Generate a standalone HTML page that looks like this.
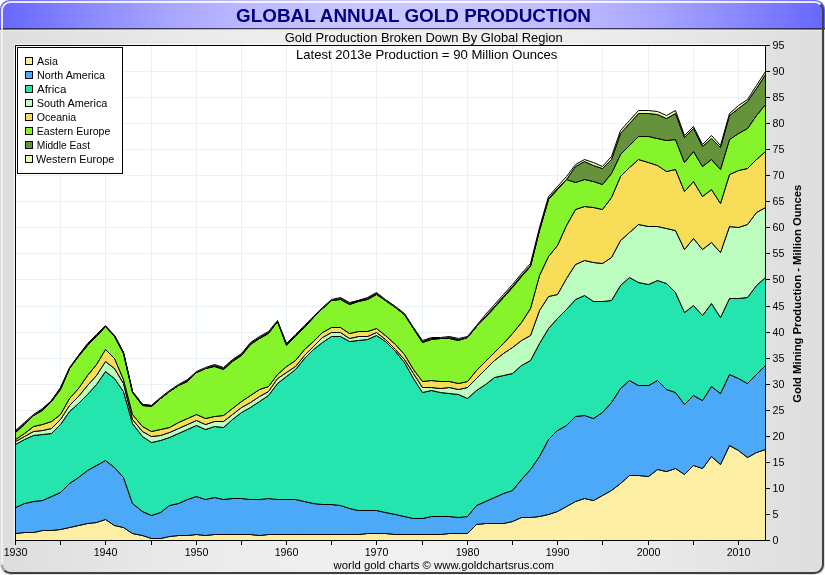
<!DOCTYPE html>
<html><head><meta charset="utf-8"><title>Global Annual Gold Production</title>
<style>
html,body{margin:0;padding:0;background:#fff;}
body{width:825px;height:575px;overflow:hidden;}
svg{display:block;font-family:"Liberation Sans",Arial,sans-serif;}
</style></head><body>
<svg width="825" height="575" viewBox="0 0 825 575">
<defs>
<linearGradient id="gb" x1="0" x2="1" y1="0" y2="0"><stop offset="0" stop-color="#DDDDDD"/><stop offset="0.1" stop-color="#E3E3E3"/><stop offset="0.2" stop-color="#E9E9E9"/><stop offset="0.3" stop-color="#EDEDED"/><stop offset="0.4" stop-color="#EFEFEF"/><stop offset="0.5" stop-color="#F0F0F0"/><stop offset="0.6" stop-color="#EFEFEF"/><stop offset="0.7" stop-color="#EDEDED"/><stop offset="0.8" stop-color="#E9E9E9"/><stop offset="0.9" stop-color="#E3E3E3"/><stop offset="1" stop-color="#DDDDDD"/></linearGradient>
<linearGradient id="gt" x1="0" x2="1" y1="0" y2="0"><stop offset="0" stop-color="#6666FF"/><stop offset="0.1" stop-color="#8887FF"/><stop offset="0.2" stop-color="#A6A4FF"/><stop offset="0.3" stop-color="#BCB9FF"/><stop offset="0.4" stop-color="#C6C3FF"/><stop offset="0.5" stop-color="#CAC7FF"/><stop offset="0.6" stop-color="#C6C3FF"/><stop offset="0.7" stop-color="#BCB9FF"/><stop offset="0.8" stop-color="#A6A4FF"/><stop offset="0.9" stop-color="#8887FF"/><stop offset="1" stop-color="#6666FF"/></linearGradient>
<clipPath id="fc"><rect x="0" y="0" width="825" height="575" rx="9.5" ry="9.5"/></clipPath>
<clipPath id="pc"><rect x="16" y="46" width="749.5" height="494.5"/></clipPath>
</defs>
<rect x="0" y="0" width="825" height="575" fill="#fff"/>
<g clip-path="url(#fc)">
<rect x="0" y="0" width="825" height="575" fill="url(#gb)"/>
<rect x="0" y="0" width="825" height="30" fill="url(#gt)"/>
<rect x="0" y="28" width="825" height="1" fill="#22224E" fill-opacity="0.85"/>
<rect x="0" y="30" width="825" height="1" fill="#ECECE0"/>
</g>
<path d="M2,29 L2,10.5 A8.5,8.5 0 0 1 10.5,2 L814.5,2 A8.5,8.5 0 0 1 820.5,4.5" fill="none" stroke="#fff" stroke-opacity="0.86" stroke-width="2"/>
<path d="M2,566 L2,29" fill="none" stroke="#fff" stroke-opacity="0.55" stroke-width="2"/>
<path d="M14.5,541 L14.5,44.5 L766,44.5" fill="none" stroke="#fff" stroke-opacity="0.7" stroke-width="1"/>
<path d="M820.5,4.5 A8.5,8.5 0 0 1 823,10.5 L823,564.5 A8.5,8.5 0 0 1 814.5,573 L10.5,573 A8.5,8.5 0 0 1 4.5,570.5" fill="none" stroke="#404044" stroke-width="2"/>
<path d="M4.5,570.5 A8.5,8.5 0 0 1 2,564.5" fill="none" stroke="#A0A0A0" stroke-width="2"/>
<rect x="16" y="46" width="749" height="494" fill="#fff"/>
<g stroke="#E6F1FA" stroke-width="1"><line x1="16" x2="765" y1="514.5" y2="514.5"/><line x1="16" x2="765" y1="488.5" y2="488.5"/><line x1="16" x2="765" y1="462.5" y2="462.5"/><line x1="16" x2="765" y1="436.5" y2="436.5"/><line x1="16" x2="765" y1="410.5" y2="410.5"/><line x1="16" x2="765" y1="384.5" y2="384.5"/><line x1="16" x2="765" y1="358.5" y2="358.5"/><line x1="16" x2="765" y1="332.5" y2="332.5"/><line x1="16" x2="765" y1="306.5" y2="306.5"/><line x1="16" x2="765" y1="279.5" y2="279.5"/><line x1="16" x2="765" y1="253.5" y2="253.5"/><line x1="16" x2="765" y1="227.5" y2="227.5"/><line x1="16" x2="765" y1="201.5" y2="201.5"/><line x1="16" x2="765" y1="175.5" y2="175.5"/><line x1="16" x2="765" y1="149.5" y2="149.5"/><line x1="16" x2="765" y1="123.5" y2="123.5"/><line x1="16" x2="765" y1="97.5" y2="97.5"/><line x1="16" x2="765" y1="71.5" y2="71.5"/><line x1="60.5" x2="60.5" y1="46" y2="540"/><line x1="105.5" x2="105.5" y1="46" y2="540"/><line x1="151.5" x2="151.5" y1="46" y2="540"/><line x1="196.5" x2="196.5" y1="46" y2="540"/><line x1="241.5" x2="241.5" y1="46" y2="540"/><line x1="286.5" x2="286.5" y1="46" y2="540"/><line x1="331.5" x2="331.5" y1="46" y2="540"/><line x1="376.5" x2="376.5" y1="46" y2="540"/><line x1="422.5" x2="422.5" y1="46" y2="540"/><line x1="467.5" x2="467.5" y1="46" y2="540"/><line x1="512.5" x2="512.5" y1="46" y2="540"/><line x1="557.5" x2="557.5" y1="46" y2="540"/><line x1="602.5" x2="602.5" y1="46" y2="540"/><line x1="648.5" x2="648.5" y1="46" y2="540"/><line x1="693.5" x2="693.5" y1="46" y2="540"/><line x1="738.5" x2="738.5" y1="46" y2="540"/></g>
<g clip-path="url(#pc)">
<path d="M15.5,533.5 L24.5,532.5 L33.5,532.5 L42.5,530.5 L51.5,530.5 L60.5,529.5 L69.5,527.5 L78.5,525.5 L87.5,523.5 L96.5,522.5 L105.5,519.5 L114.5,525.5 L123.5,527.5 L132.5,533.5 L142.5,535.5 L151.5,538.5 L160.5,538.5 L169.5,536.5 L178.5,535.5 L187.5,535.5 L196.5,534.5 L205.5,535.5 L214.5,534.5 L223.5,534.5 L232.5,534.5 L241.5,534.5 L250.5,534.5 L259.5,535.5 L268.5,534.5 L277.5,534.5 L286.5,534.5 L295.5,534.5 L304.5,534.5 L313.5,534.5 L322.5,534.5 L331.5,534.5 L340.5,534.5 L349.5,534.5 L358.5,534.5 L367.5,533.5 L376.5,533.5 L385.5,533.5 L395.5,534.5 L404.5,534.5 L413.5,534.5 L422.5,534.5 L431.5,534.5 L440.5,534.5 L449.5,533.5 L458.5,533.5 L467.5,533.5 L476.5,524.5 L485.5,523.5 L494.5,523.5 L503.5,523.5 L512.5,521.5 L521.5,517.5 L530.5,517.5 L539.5,516.5 L548.5,514.5 L557.5,511.5 L566.5,506.5 L575.5,501.5 L584.5,498.5 L593.5,500.5 L602.5,495.5 L611.5,490.5 L620.5,483.5 L629.5,475.5 L638.5,475.5 L648.5,476.5 L657.5,469.5 L666.5,471.5 L675.5,468.5 L684.5,474.5 L693.5,465.5 L702.5,468.5 L711.5,456.5 L720.5,464.5 L729.5,445.5 L738.5,450.5 L747.5,457.5 L756.5,452.5 L765.5,449.5 L765.5,540.5 L756.5,540.5 L747.5,540.5 L738.5,540.5 L729.5,540.5 L720.5,540.5 L711.5,540.5 L702.5,540.5 L693.5,540.5 L684.5,540.5 L675.5,540.5 L666.5,540.5 L657.5,540.5 L648.5,540.5 L638.5,540.5 L629.5,540.5 L620.5,540.5 L611.5,540.5 L602.5,540.5 L593.5,540.5 L584.5,540.5 L575.5,540.5 L566.5,540.5 L557.5,540.5 L548.5,540.5 L539.5,540.5 L530.5,540.5 L521.5,540.5 L512.5,540.5 L503.5,540.5 L494.5,540.5 L485.5,540.5 L476.5,540.5 L467.5,540.5 L458.5,540.5 L449.5,540.5 L440.5,540.5 L431.5,540.5 L422.5,540.5 L413.5,540.5 L404.5,540.5 L395.5,540.5 L385.5,540.5 L376.5,540.5 L367.5,540.5 L358.5,540.5 L349.5,540.5 L340.5,540.5 L331.5,540.5 L322.5,540.5 L313.5,540.5 L304.5,540.5 L295.5,540.5 L286.5,540.5 L277.5,540.5 L268.5,540.5 L259.5,540.5 L250.5,540.5 L241.5,540.5 L232.5,540.5 L223.5,540.5 L214.5,540.5 L205.5,540.5 L196.5,540.5 L187.5,540.5 L178.5,540.5 L169.5,540.5 L160.5,540.5 L151.5,540.5 L142.5,540.5 L132.5,540.5 L123.5,540.5 L114.5,540.5 L105.5,540.5 L96.5,540.5 L87.5,540.5 L78.5,540.5 L69.5,540.5 L60.5,540.5 L51.5,540.5 L42.5,540.5 L33.5,540.5 L24.5,540.5 L15.5,540.5Z" fill="#FCEFA4" stroke="#000" stroke-width="1" stroke-linejoin="round"/>
<path d="M15.5,507.5 L24.5,503.5 L33.5,501.5 L42.5,500.5 L51.5,496.5 L60.5,492.5 L69.5,483.5 L78.5,477.5 L87.5,470.5 L96.5,465.5 L105.5,460.5 L114.5,467.5 L123.5,477.5 L132.5,503.5 L142.5,511.5 L151.5,515.5 L160.5,512.5 L169.5,505.5 L178.5,503.5 L187.5,499.5 L196.5,496.5 L205.5,499.5 L214.5,497.5 L223.5,499.5 L232.5,498.5 L241.5,498.5 L250.5,499.5 L259.5,499.5 L268.5,498.5 L277.5,499.5 L286.5,499.5 L295.5,499.5 L304.5,501.5 L313.5,503.5 L322.5,504.5 L331.5,504.5 L340.5,505.5 L349.5,508.5 L358.5,510.5 L367.5,510.5 L376.5,510.5 L385.5,512.5 L395.5,514.5 L404.5,516.5 L413.5,518.5 L422.5,518.5 L431.5,516.5 L440.5,516.5 L449.5,516.5 L458.5,517.5 L467.5,516.5 L476.5,505.5 L485.5,501.5 L494.5,497.5 L503.5,493.5 L512.5,490.5 L521.5,479.5 L530.5,469.5 L539.5,456.5 L548.5,439.5 L557.5,430.5 L566.5,425.5 L575.5,416.5 L584.5,415.5 L593.5,418.5 L602.5,412.5 L611.5,402.5 L620.5,388.5 L629.5,380.5 L638.5,385.5 L648.5,385.5 L657.5,380.5 L666.5,389.5 L675.5,392.5 L684.5,404.5 L693.5,395.5 L702.5,400.5 L711.5,386.5 L720.5,393.5 L729.5,374.5 L738.5,378.5 L747.5,383.5 L756.5,374.5 L765.5,365.5 L765.5,449.5 L756.5,452.5 L747.5,457.5 L738.5,450.5 L729.5,445.5 L720.5,464.5 L711.5,456.5 L702.5,468.5 L693.5,465.5 L684.5,474.5 L675.5,468.5 L666.5,471.5 L657.5,469.5 L648.5,476.5 L638.5,475.5 L629.5,475.5 L620.5,483.5 L611.5,490.5 L602.5,495.5 L593.5,500.5 L584.5,498.5 L575.5,501.5 L566.5,506.5 L557.5,511.5 L548.5,514.5 L539.5,516.5 L530.5,517.5 L521.5,517.5 L512.5,521.5 L503.5,523.5 L494.5,523.5 L485.5,523.5 L476.5,524.5 L467.5,533.5 L458.5,533.5 L449.5,533.5 L440.5,534.5 L431.5,534.5 L422.5,534.5 L413.5,534.5 L404.5,534.5 L395.5,534.5 L385.5,533.5 L376.5,533.5 L367.5,533.5 L358.5,534.5 L349.5,534.5 L340.5,534.5 L331.5,534.5 L322.5,534.5 L313.5,534.5 L304.5,534.5 L295.5,534.5 L286.5,534.5 L277.5,534.5 L268.5,534.5 L259.5,535.5 L250.5,534.5 L241.5,534.5 L232.5,534.5 L223.5,534.5 L214.5,534.5 L205.5,535.5 L196.5,534.5 L187.5,535.5 L178.5,535.5 L169.5,536.5 L160.5,538.5 L151.5,538.5 L142.5,535.5 L132.5,533.5 L123.5,527.5 L114.5,525.5 L105.5,519.5 L96.5,522.5 L87.5,523.5 L78.5,525.5 L69.5,527.5 L60.5,529.5 L51.5,530.5 L42.5,530.5 L33.5,532.5 L24.5,532.5 L15.5,533.5Z" fill="#4CA9F8" stroke="#000" stroke-width="1" stroke-linejoin="round"/>
<path d="M15.5,444.5 L24.5,439.5 L33.5,435.5 L42.5,434.5 L51.5,433.5 L60.5,424.5 L69.5,411.5 L78.5,403.5 L87.5,394.5 L96.5,384.5 L105.5,371.5 L114.5,378.5 L123.5,391.5 L132.5,423.5 L142.5,436.5 L151.5,442.5 L160.5,440.5 L169.5,437.5 L178.5,433.5 L187.5,429.5 L196.5,425.5 L205.5,429.5 L214.5,426.5 L223.5,427.5 L232.5,419.5 L241.5,412.5 L250.5,407.5 L259.5,401.5 L268.5,395.5 L277.5,383.5 L286.5,376.5 L295.5,369.5 L304.5,358.5 L313.5,349.5 L322.5,342.5 L331.5,336.5 L340.5,336.5 L349.5,341.5 L358.5,340.5 L367.5,339.5 L376.5,335.5 L385.5,341.5 L395.5,351.5 L404.5,362.5 L413.5,378.5 L422.5,392.5 L431.5,390.5 L440.5,392.5 L449.5,393.5 L458.5,394.5 L467.5,398.5 L476.5,390.5 L485.5,384.5 L494.5,377.5 L503.5,375.5 L512.5,373.5 L521.5,365.5 L530.5,360.5 L539.5,343.5 L548.5,328.5 L557.5,318.5 L566.5,309.5 L575.5,299.5 L584.5,295.5 L593.5,301.5 L602.5,301.5 L611.5,300.5 L620.5,285.5 L629.5,277.5 L638.5,282.5 L648.5,284.5 L657.5,280.5 L666.5,283.5 L675.5,292.5 L684.5,312.5 L693.5,305.5 L702.5,315.5 L711.5,303.5 L720.5,317.5 L729.5,298.5 L738.5,298.5 L747.5,297.5 L756.5,285.5 L765.5,277.5 L765.5,365.5 L756.5,374.5 L747.5,383.5 L738.5,378.5 L729.5,374.5 L720.5,393.5 L711.5,386.5 L702.5,400.5 L693.5,395.5 L684.5,404.5 L675.5,392.5 L666.5,389.5 L657.5,380.5 L648.5,385.5 L638.5,385.5 L629.5,380.5 L620.5,388.5 L611.5,402.5 L602.5,412.5 L593.5,418.5 L584.5,415.5 L575.5,416.5 L566.5,425.5 L557.5,430.5 L548.5,439.5 L539.5,456.5 L530.5,469.5 L521.5,479.5 L512.5,490.5 L503.5,493.5 L494.5,497.5 L485.5,501.5 L476.5,505.5 L467.5,516.5 L458.5,517.5 L449.5,516.5 L440.5,516.5 L431.5,516.5 L422.5,518.5 L413.5,518.5 L404.5,516.5 L395.5,514.5 L385.5,512.5 L376.5,510.5 L367.5,510.5 L358.5,510.5 L349.5,508.5 L340.5,505.5 L331.5,504.5 L322.5,504.5 L313.5,503.5 L304.5,501.5 L295.5,499.5 L286.5,499.5 L277.5,499.5 L268.5,498.5 L259.5,499.5 L250.5,499.5 L241.5,498.5 L232.5,498.5 L223.5,499.5 L214.5,497.5 L205.5,499.5 L196.5,496.5 L187.5,499.5 L178.5,503.5 L169.5,505.5 L160.5,512.5 L151.5,515.5 L142.5,511.5 L132.5,503.5 L123.5,477.5 L114.5,467.5 L105.5,460.5 L96.5,465.5 L87.5,470.5 L78.5,477.5 L69.5,483.5 L60.5,492.5 L51.5,496.5 L42.5,500.5 L33.5,501.5 L24.5,503.5 L15.5,507.5Z" fill="#25E5AE" stroke="#000" stroke-width="1" stroke-linejoin="round"/>
<path d="M15.5,441.5 L24.5,436.5 L33.5,431.5 L42.5,430.5 L51.5,428.5 L60.5,419.5 L69.5,405.5 L78.5,396.5 L87.5,385.5 L96.5,375.5 L105.5,361.5 L114.5,368.5 L123.5,383.5 L132.5,419.5 L142.5,431.5 L151.5,436.5 L160.5,435.5 L169.5,432.5 L178.5,428.5 L187.5,424.5 L196.5,420.5 L205.5,424.5 L214.5,421.5 L223.5,421.5 L232.5,414.5 L241.5,407.5 L250.5,402.5 L259.5,396.5 L268.5,391.5 L277.5,378.5 L286.5,372.5 L295.5,366.5 L304.5,355.5 L313.5,346.5 L322.5,337.5 L331.5,332.5 L340.5,332.5 L349.5,338.5 L358.5,336.5 L367.5,336.5 L376.5,332.5 L385.5,339.5 L395.5,349.5 L404.5,359.5 L413.5,373.5 L422.5,387.5 L431.5,387.5 L440.5,388.5 L449.5,387.5 L458.5,389.5 L467.5,387.5 L476.5,378.5 L485.5,369.5 L494.5,360.5 L503.5,353.5 L512.5,347.5 L521.5,340.5 L530.5,335.5 L539.5,310.5 L548.5,296.5 L557.5,294.5 L566.5,278.5 L575.5,264.5 L584.5,260.5 L593.5,262.5 L602.5,263.5 L611.5,257.5 L620.5,240.5 L629.5,232.5 L638.5,224.5 L648.5,226.5 L657.5,226.5 L666.5,228.5 L675.5,230.5 L684.5,249.5 L693.5,238.5 L702.5,249.5 L711.5,242.5 L720.5,252.5 L729.5,226.5 L738.5,227.5 L747.5,224.5 L756.5,212.5 L765.5,207.5 L765.5,277.5 L756.5,285.5 L747.5,297.5 L738.5,298.5 L729.5,298.5 L720.5,317.5 L711.5,303.5 L702.5,315.5 L693.5,305.5 L684.5,312.5 L675.5,292.5 L666.5,283.5 L657.5,280.5 L648.5,284.5 L638.5,282.5 L629.5,277.5 L620.5,285.5 L611.5,300.5 L602.5,301.5 L593.5,301.5 L584.5,295.5 L575.5,299.5 L566.5,309.5 L557.5,318.5 L548.5,328.5 L539.5,343.5 L530.5,360.5 L521.5,365.5 L512.5,373.5 L503.5,375.5 L494.5,377.5 L485.5,384.5 L476.5,390.5 L467.5,398.5 L458.5,394.5 L449.5,393.5 L440.5,392.5 L431.5,390.5 L422.5,392.5 L413.5,378.5 L404.5,362.5 L395.5,351.5 L385.5,341.5 L376.5,335.5 L367.5,339.5 L358.5,340.5 L349.5,341.5 L340.5,336.5 L331.5,336.5 L322.5,342.5 L313.5,349.5 L304.5,358.5 L295.5,369.5 L286.5,376.5 L277.5,383.5 L268.5,395.5 L259.5,401.5 L250.5,407.5 L241.5,412.5 L232.5,419.5 L223.5,427.5 L214.5,426.5 L205.5,429.5 L196.5,425.5 L187.5,429.5 L178.5,433.5 L169.5,437.5 L160.5,440.5 L151.5,442.5 L142.5,436.5 L132.5,423.5 L123.5,391.5 L114.5,378.5 L105.5,371.5 L96.5,384.5 L87.5,394.5 L78.5,403.5 L69.5,411.5 L60.5,424.5 L51.5,433.5 L42.5,434.5 L33.5,435.5 L24.5,439.5 L15.5,444.5Z" fill="#BCFDC0" stroke="#000" stroke-width="1" stroke-linejoin="round"/>
<path d="M15.5,439.5 L24.5,433.5 L33.5,426.5 L42.5,424.5 L51.5,421.5 L60.5,414.5 L69.5,398.5 L78.5,388.5 L87.5,375.5 L96.5,364.5 L105.5,349.5 L114.5,358.5 L123.5,379.5 L132.5,414.5 L142.5,426.5 L151.5,431.5 L160.5,429.5 L169.5,427.5 L178.5,422.5 L187.5,418.5 L196.5,414.5 L205.5,418.5 L214.5,416.5 L223.5,415.5 L232.5,408.5 L241.5,401.5 L250.5,395.5 L259.5,389.5 L268.5,386.5 L277.5,374.5 L286.5,366.5 L295.5,360.5 L304.5,349.5 L313.5,341.5 L322.5,332.5 L331.5,327.5 L340.5,327.5 L349.5,333.5 L358.5,331.5 L367.5,331.5 L376.5,328.5 L385.5,335.5 L395.5,344.5 L404.5,354.5 L413.5,369.5 L422.5,381.5 L431.5,380.5 L440.5,381.5 L449.5,381.5 L458.5,383.5 L467.5,381.5 L476.5,370.5 L485.5,361.5 L494.5,352.5 L503.5,343.5 L512.5,333.5 L521.5,322.5 L530.5,308.5 L539.5,275.5 L548.5,256.5 L557.5,245.5 L566.5,225.5 L575.5,209.5 L584.5,206.5 L593.5,207.5 L602.5,209.5 L611.5,197.5 L620.5,176.5 L629.5,167.5 L638.5,159.5 L648.5,162.5 L657.5,165.5 L666.5,171.5 L675.5,169.5 L684.5,191.5 L693.5,181.5 L702.5,196.5 L711.5,189.5 L720.5,203.5 L729.5,174.5 L738.5,170.5 L747.5,168.5 L756.5,159.5 L765.5,151.5 L765.5,207.5 L756.5,212.5 L747.5,224.5 L738.5,227.5 L729.5,226.5 L720.5,252.5 L711.5,242.5 L702.5,249.5 L693.5,238.5 L684.5,249.5 L675.5,230.5 L666.5,228.5 L657.5,226.5 L648.5,226.5 L638.5,224.5 L629.5,232.5 L620.5,240.5 L611.5,257.5 L602.5,263.5 L593.5,262.5 L584.5,260.5 L575.5,264.5 L566.5,278.5 L557.5,294.5 L548.5,296.5 L539.5,310.5 L530.5,335.5 L521.5,340.5 L512.5,347.5 L503.5,353.5 L494.5,360.5 L485.5,369.5 L476.5,378.5 L467.5,387.5 L458.5,389.5 L449.5,387.5 L440.5,388.5 L431.5,387.5 L422.5,387.5 L413.5,373.5 L404.5,359.5 L395.5,349.5 L385.5,339.5 L376.5,332.5 L367.5,336.5 L358.5,336.5 L349.5,338.5 L340.5,332.5 L331.5,332.5 L322.5,337.5 L313.5,346.5 L304.5,355.5 L295.5,366.5 L286.5,372.5 L277.5,378.5 L268.5,391.5 L259.5,396.5 L250.5,402.5 L241.5,407.5 L232.5,414.5 L223.5,421.5 L214.5,421.5 L205.5,424.5 L196.5,420.5 L187.5,424.5 L178.5,428.5 L169.5,432.5 L160.5,435.5 L151.5,436.5 L142.5,431.5 L132.5,419.5 L123.5,383.5 L114.5,368.5 L105.5,361.5 L96.5,375.5 L87.5,385.5 L78.5,396.5 L69.5,405.5 L60.5,419.5 L51.5,428.5 L42.5,430.5 L33.5,431.5 L24.5,436.5 L15.5,441.5Z" fill="#F8DE58" stroke="#000" stroke-width="1" stroke-linejoin="round"/>
<path d="M15.5,432.5 L24.5,424.5 L33.5,415.5 L42.5,410.5 L51.5,401.5 L60.5,389.5 L69.5,368.5 L78.5,356.5 L87.5,345.5 L96.5,336.5 L105.5,326.5 L114.5,336.5 L123.5,353.5 L132.5,392.5 L142.5,405.5 L151.5,406.5 L160.5,398.5 L169.5,391.5 L178.5,385.5 L187.5,381.5 L196.5,372.5 L205.5,368.5 L214.5,366.5 L223.5,369.5 L232.5,361.5 L241.5,355.5 L250.5,344.5 L259.5,338.5 L268.5,333.5 L277.5,321.5 L286.5,345.5 L295.5,336.5 L304.5,327.5 L313.5,317.5 L322.5,308.5 L331.5,300.5 L340.5,299.5 L349.5,304.5 L358.5,301.5 L367.5,299.5 L376.5,294.5 L385.5,300.5 L395.5,307.5 L404.5,314.5 L413.5,328.5 L422.5,342.5 L431.5,339.5 L440.5,338.5 L449.5,338.5 L458.5,340.5 L467.5,337.5 L476.5,326.5 L485.5,317.5 L494.5,307.5 L503.5,297.5 L512.5,287.5 L521.5,276.5 L530.5,266.5 L539.5,230.5 L548.5,199.5 L557.5,189.5 L566.5,179.5 L575.5,182.5 L584.5,179.5 L593.5,181.5 L602.5,184.5 L611.5,173.5 L620.5,154.5 L629.5,145.5 L638.5,136.5 L648.5,136.5 L657.5,138.5 L666.5,140.5 L675.5,139.5 L684.5,162.5 L693.5,151.5 L702.5,166.5 L711.5,159.5 L720.5,169.5 L729.5,139.5 L738.5,133.5 L747.5,128.5 L756.5,115.5 L765.5,104.5 L765.5,151.5 L756.5,159.5 L747.5,168.5 L738.5,170.5 L729.5,174.5 L720.5,203.5 L711.5,189.5 L702.5,196.5 L693.5,181.5 L684.5,191.5 L675.5,169.5 L666.5,171.5 L657.5,165.5 L648.5,162.5 L638.5,159.5 L629.5,167.5 L620.5,176.5 L611.5,197.5 L602.5,209.5 L593.5,207.5 L584.5,206.5 L575.5,209.5 L566.5,225.5 L557.5,245.5 L548.5,256.5 L539.5,275.5 L530.5,308.5 L521.5,322.5 L512.5,333.5 L503.5,343.5 L494.5,352.5 L485.5,361.5 L476.5,370.5 L467.5,381.5 L458.5,383.5 L449.5,381.5 L440.5,381.5 L431.5,380.5 L422.5,381.5 L413.5,369.5 L404.5,354.5 L395.5,344.5 L385.5,335.5 L376.5,328.5 L367.5,331.5 L358.5,331.5 L349.5,333.5 L340.5,327.5 L331.5,327.5 L322.5,332.5 L313.5,341.5 L304.5,349.5 L295.5,360.5 L286.5,366.5 L277.5,374.5 L268.5,386.5 L259.5,389.5 L250.5,395.5 L241.5,401.5 L232.5,408.5 L223.5,415.5 L214.5,416.5 L205.5,418.5 L196.5,414.5 L187.5,418.5 L178.5,422.5 L169.5,427.5 L160.5,429.5 L151.5,431.5 L142.5,426.5 L132.5,414.5 L123.5,379.5 L114.5,358.5 L105.5,349.5 L96.5,364.5 L87.5,375.5 L78.5,388.5 L69.5,398.5 L60.5,414.5 L51.5,421.5 L42.5,424.5 L33.5,426.5 L24.5,433.5 L15.5,439.5Z" fill="#85F42A" stroke="#000" stroke-width="1" stroke-linejoin="round"/>
<path d="M15.5,431.5 L24.5,423.5 L33.5,415.5 L42.5,409.5 L51.5,400.5 L60.5,388.5 L69.5,368.5 L78.5,355.5 L87.5,344.5 L96.5,335.5 L105.5,326.5 L114.5,335.5 L123.5,352.5 L132.5,391.5 L142.5,404.5 L151.5,405.5 L160.5,398.5 L169.5,391.5 L178.5,385.5 L187.5,380.5 L196.5,372.5 L205.5,368.5 L214.5,365.5 L223.5,368.5 L232.5,360.5 L241.5,354.5 L250.5,343.5 L259.5,337.5 L268.5,332.5 L277.5,321.5 L286.5,344.5 L295.5,335.5 L304.5,326.5 L313.5,317.5 L322.5,308.5 L331.5,300.5 L340.5,298.5 L349.5,303.5 L358.5,300.5 L367.5,298.5 L376.5,293.5 L385.5,300.5 L395.5,307.5 L404.5,314.5 L413.5,328.5 L422.5,341.5 L431.5,338.5 L440.5,338.5 L449.5,337.5 L458.5,339.5 L467.5,337.5 L476.5,326.5 L485.5,316.5 L494.5,306.5 L503.5,296.5 L512.5,286.5 L521.5,275.5 L530.5,265.5 L539.5,229.5 L548.5,198.5 L557.5,188.5 L566.5,179.5 L575.5,166.5 L584.5,161.5 L593.5,165.5 L602.5,168.5 L611.5,159.5 L620.5,133.5 L629.5,123.5 L638.5,113.5 L648.5,113.5 L657.5,114.5 L666.5,118.5 L675.5,113.5 L684.5,137.5 L693.5,128.5 L702.5,146.5 L711.5,138.5 L720.5,147.5 L729.5,115.5 L738.5,108.5 L747.5,101.5 L756.5,88.5 L765.5,74.5 L765.5,104.5 L756.5,115.5 L747.5,128.5 L738.5,133.5 L729.5,139.5 L720.5,169.5 L711.5,159.5 L702.5,166.5 L693.5,151.5 L684.5,162.5 L675.5,139.5 L666.5,140.5 L657.5,138.5 L648.5,136.5 L638.5,136.5 L629.5,145.5 L620.5,154.5 L611.5,173.5 L602.5,184.5 L593.5,181.5 L584.5,179.5 L575.5,182.5 L566.5,179.5 L557.5,189.5 L548.5,199.5 L539.5,230.5 L530.5,266.5 L521.5,276.5 L512.5,287.5 L503.5,297.5 L494.5,307.5 L485.5,317.5 L476.5,326.5 L467.5,337.5 L458.5,340.5 L449.5,338.5 L440.5,338.5 L431.5,339.5 L422.5,342.5 L413.5,328.5 L404.5,314.5 L395.5,307.5 L385.5,300.5 L376.5,294.5 L367.5,299.5 L358.5,301.5 L349.5,304.5 L340.5,299.5 L331.5,300.5 L322.5,308.5 L313.5,317.5 L304.5,327.5 L295.5,336.5 L286.5,345.5 L277.5,321.5 L268.5,333.5 L259.5,338.5 L250.5,344.5 L241.5,355.5 L232.5,361.5 L223.5,369.5 L214.5,366.5 L205.5,368.5 L196.5,372.5 L187.5,381.5 L178.5,385.5 L169.5,391.5 L160.5,398.5 L151.5,406.5 L142.5,405.5 L132.5,392.5 L123.5,353.5 L114.5,336.5 L105.5,326.5 L96.5,336.5 L87.5,345.5 L78.5,356.5 L69.5,368.5 L60.5,389.5 L51.5,401.5 L42.5,410.5 L33.5,415.5 L24.5,424.5 L15.5,432.5Z" fill="#64933C" stroke="#000" stroke-width="1" stroke-linejoin="round"/>
<path d="M15.5,430.5 L24.5,422.5 L33.5,414.5 L42.5,408.5 L51.5,400.5 L60.5,387.5 L69.5,367.5 L78.5,355.5 L87.5,343.5 L96.5,334.5 L105.5,325.5 L114.5,335.5 L123.5,352.5 L132.5,391.5 L142.5,404.5 L151.5,405.5 L160.5,397.5 L169.5,390.5 L178.5,384.5 L187.5,379.5 L196.5,371.5 L205.5,367.5 L214.5,364.5 L223.5,367.5 L232.5,359.5 L241.5,353.5 L250.5,342.5 L259.5,336.5 L268.5,331.5 L277.5,320.5 L286.5,343.5 L295.5,334.5 L304.5,325.5 L313.5,316.5 L322.5,307.5 L331.5,299.5 L340.5,297.5 L349.5,302.5 L358.5,300.5 L367.5,297.5 L376.5,292.5 L385.5,299.5 L395.5,306.5 L404.5,313.5 L413.5,327.5 L422.5,340.5 L431.5,337.5 L440.5,337.5 L449.5,336.5 L458.5,338.5 L467.5,336.5 L476.5,325.5 L485.5,314.5 L494.5,304.5 L503.5,294.5 L512.5,284.5 L521.5,273.5 L530.5,263.5 L539.5,227.5 L548.5,196.5 L557.5,186.5 L566.5,176.5 L575.5,164.5 L584.5,159.5 L593.5,162.5 L602.5,166.5 L611.5,156.5 L620.5,130.5 L629.5,120.5 L638.5,110.5 L648.5,110.5 L657.5,111.5 L666.5,115.5 L675.5,110.5 L684.5,135.5 L693.5,126.5 L702.5,144.5 L711.5,135.5 L720.5,145.5 L729.5,113.5 L738.5,105.5 L747.5,99.5 L756.5,85.5 L765.5,71.5 L765.5,74.5 L756.5,88.5 L747.5,101.5 L738.5,108.5 L729.5,115.5 L720.5,147.5 L711.5,138.5 L702.5,146.5 L693.5,128.5 L684.5,137.5 L675.5,113.5 L666.5,118.5 L657.5,114.5 L648.5,113.5 L638.5,113.5 L629.5,123.5 L620.5,133.5 L611.5,159.5 L602.5,168.5 L593.5,165.5 L584.5,161.5 L575.5,166.5 L566.5,179.5 L557.5,188.5 L548.5,198.5 L539.5,229.5 L530.5,265.5 L521.5,275.5 L512.5,286.5 L503.5,296.5 L494.5,306.5 L485.5,316.5 L476.5,326.5 L467.5,337.5 L458.5,339.5 L449.5,337.5 L440.5,338.5 L431.5,338.5 L422.5,341.5 L413.5,328.5 L404.5,314.5 L395.5,307.5 L385.5,300.5 L376.5,293.5 L367.5,298.5 L358.5,300.5 L349.5,303.5 L340.5,298.5 L331.5,300.5 L322.5,308.5 L313.5,317.5 L304.5,326.5 L295.5,335.5 L286.5,344.5 L277.5,321.5 L268.5,332.5 L259.5,337.5 L250.5,343.5 L241.5,354.5 L232.5,360.5 L223.5,368.5 L214.5,365.5 L205.5,368.5 L196.5,372.5 L187.5,380.5 L178.5,385.5 L169.5,391.5 L160.5,398.5 L151.5,405.5 L142.5,404.5 L132.5,391.5 L123.5,352.5 L114.5,335.5 L105.5,326.5 L96.5,335.5 L87.5,344.5 L78.5,355.5 L69.5,368.5 L60.5,388.5 L51.5,400.5 L42.5,409.5 L33.5,415.5 L24.5,423.5 L15.5,431.5Z" fill="#E8FBA8" stroke="#000" stroke-width="1" stroke-linejoin="round"/>
</g>
<g stroke="#000" stroke-width="1" fill="none"><line x1="15.5" x2="15.5" y1="45" y2="541"/><line x1="15" x2="770" y1="45.5" y2="45.5"/><line x1="765.5" x2="765.5" y1="45" y2="541"/><line x1="15" x2="766" y1="540.5" y2="540.5"/></g>
<g stroke="#000" stroke-width="1"><line x1="765" x2="770" y1="540.5" y2="540.5"/><line x1="765" x2="770" y1="514.5" y2="514.5"/><line x1="765" x2="770" y1="488.5" y2="488.5"/><line x1="765" x2="770" y1="462.5" y2="462.5"/><line x1="765" x2="770" y1="436.5" y2="436.5"/><line x1="765" x2="770" y1="410.5" y2="410.5"/><line x1="765" x2="770" y1="384.5" y2="384.5"/><line x1="765" x2="770" y1="358.5" y2="358.5"/><line x1="765" x2="770" y1="332.5" y2="332.5"/><line x1="765" x2="770" y1="306.5" y2="306.5"/><line x1="765" x2="770" y1="279.5" y2="279.5"/><line x1="765" x2="770" y1="253.5" y2="253.5"/><line x1="765" x2="770" y1="227.5" y2="227.5"/><line x1="765" x2="770" y1="201.5" y2="201.5"/><line x1="765" x2="770" y1="175.5" y2="175.5"/><line x1="765" x2="770" y1="149.5" y2="149.5"/><line x1="765" x2="770" y1="123.5" y2="123.5"/><line x1="765" x2="770" y1="97.5" y2="97.5"/><line x1="765" x2="770" y1="71.5" y2="71.5"/><line x1="765" x2="770" y1="45.5" y2="45.5"/><line x1="15.5" x2="15.5" y1="540" y2="545"/><line x1="60.5" x2="60.5" y1="540" y2="545"/><line x1="105.5" x2="105.5" y1="540" y2="545"/><line x1="151.5" x2="151.5" y1="540" y2="545"/><line x1="196.5" x2="196.5" y1="540" y2="545"/><line x1="241.5" x2="241.5" y1="540" y2="545"/><line x1="286.5" x2="286.5" y1="540" y2="545"/><line x1="331.5" x2="331.5" y1="540" y2="545"/><line x1="376.5" x2="376.5" y1="540" y2="545"/><line x1="422.5" x2="422.5" y1="540" y2="545"/><line x1="467.5" x2="467.5" y1="540" y2="545"/><line x1="512.5" x2="512.5" y1="540" y2="545"/><line x1="557.5" x2="557.5" y1="540" y2="545"/><line x1="602.5" x2="602.5" y1="540" y2="545"/><line x1="648.5" x2="648.5" y1="540" y2="545"/><line x1="693.5" x2="693.5" y1="540" y2="545"/><line x1="738.5" x2="738.5" y1="540" y2="545"/></g>
<g font-size="10.67" fill="#000"><text x="772.6" y="544.1">0</text><text x="772.6" y="518.1">5</text><text x="772.6" y="492.1">10</text><text x="772.6" y="466.1">15</text><text x="772.6" y="440.1">20</text><text x="772.6" y="414.1">25</text><text x="772.6" y="388.1">30</text><text x="772.6" y="362.1">35</text><text x="772.6" y="336.1">40</text><text x="772.6" y="310.1">45</text><text x="772.6" y="283.1">50</text><text x="772.6" y="257.1">55</text><text x="772.6" y="231.1">60</text><text x="772.6" y="205.1">65</text><text x="772.6" y="179.1">70</text><text x="772.6" y="153.1">75</text><text x="772.6" y="127.1">80</text><text x="772.6" y="101.1">85</text><text x="772.6" y="75.1">90</text><text x="772.6" y="49.1">95</text><text x="15.5" y="555.6" text-anchor="middle">1930</text><text x="105.5" y="555.6" text-anchor="middle">1940</text><text x="196.5" y="555.6" text-anchor="middle">1950</text><text x="286.5" y="555.6" text-anchor="middle">1960</text><text x="376.5" y="555.6" text-anchor="middle">1970</text><text x="467.5" y="555.6" text-anchor="middle">1980</text><text x="557.5" y="555.6" text-anchor="middle">1990</text><text x="648.5" y="555.6" text-anchor="middle">2000</text><text x="738.5" y="555.6" text-anchor="middle">2010</text></g>
<rect x="17.5" y="47.5" width="105" height="126" fill="#fff" stroke="#000" stroke-width="1"/><rect x="25.5" y="57.5" width="7" height="7" fill="#FCEFA4" stroke="#000" stroke-width="1"/><text x="37" y="64.9" font-size="10.9" fill="#000" textLength="20.9" lengthAdjust="spacingAndGlyphs">Asia</text><rect x="25.5" y="71.5" width="7" height="7" fill="#4CA9F8" stroke="#000" stroke-width="1"/><text x="37" y="78.9" font-size="10.9" fill="#000" textLength="68" lengthAdjust="spacingAndGlyphs">North America</text><rect x="25.5" y="85.5" width="7" height="7" fill="#25E5AE" stroke="#000" stroke-width="1"/><text x="37" y="92.9" font-size="10.9" fill="#000" textLength="29.3" lengthAdjust="spacingAndGlyphs">Africa</text><rect x="25.5" y="99.5" width="7" height="7" fill="#BCFDC0" stroke="#000" stroke-width="1"/><text x="36.7" y="106.9" font-size="10.9" fill="#000" textLength="70.7" lengthAdjust="spacingAndGlyphs">South America</text><rect x="25.5" y="113.5" width="7" height="7" fill="#F8DE58" stroke="#000" stroke-width="1"/><text x="36.7" y="120.9" font-size="10.9" fill="#000" textLength="39.6" lengthAdjust="spacingAndGlyphs">Oceania</text><rect x="25.5" y="127.5" width="7" height="7" fill="#85F42A" stroke="#000" stroke-width="1"/><text x="36.7" y="134.9" font-size="10.9" fill="#000" textLength="73.7" lengthAdjust="spacingAndGlyphs">Eastern Europe</text><rect x="25.5" y="141.5" width="7" height="7" fill="#64933C" stroke="#000" stroke-width="1"/><text x="36.7" y="148.9" font-size="10.9" fill="#000" textLength="53.3" lengthAdjust="spacingAndGlyphs">Middle East</text><rect x="25.5" y="155.5" width="7" height="7" fill="#E8FBA8" stroke="#000" stroke-width="1"/><text x="36" y="162.9" font-size="10.9" fill="#000" textLength="78.4" lengthAdjust="spacingAndGlyphs">Western Europe</text>
<text x="413.5" y="21.8" text-anchor="middle" font-size="18.9" font-weight="bold" fill="#000080" textLength="355" lengthAdjust="spacingAndGlyphs">GLOBAL ANNUAL GOLD PRODUCTION</text>
<text x="423.7" y="41.8" text-anchor="middle" font-size="13" fill="#000" textLength="278" lengthAdjust="spacingAndGlyphs">Gold Production Broken Down By Global Region</text>
<text x="426.7" y="58.6" text-anchor="middle" font-size="13" fill="#000" textLength="261.5" lengthAdjust="spacingAndGlyphs">Latest 2013e Production = 90 Million Ounces</text>
<text transform="translate(801.3,293.7) rotate(-90)" text-anchor="middle" font-size="11.3" font-weight="bold" fill="#000" textLength="218" lengthAdjust="spacingAndGlyphs">Gold Mining Production - Million Ounces</text>
<text x="333.6" y="569.1" font-size="11" fill="#000" textLength="220.4" lengthAdjust="spacingAndGlyphs">world gold charts © www.goldchartsrus.com</text>
</svg>
</body></html>
